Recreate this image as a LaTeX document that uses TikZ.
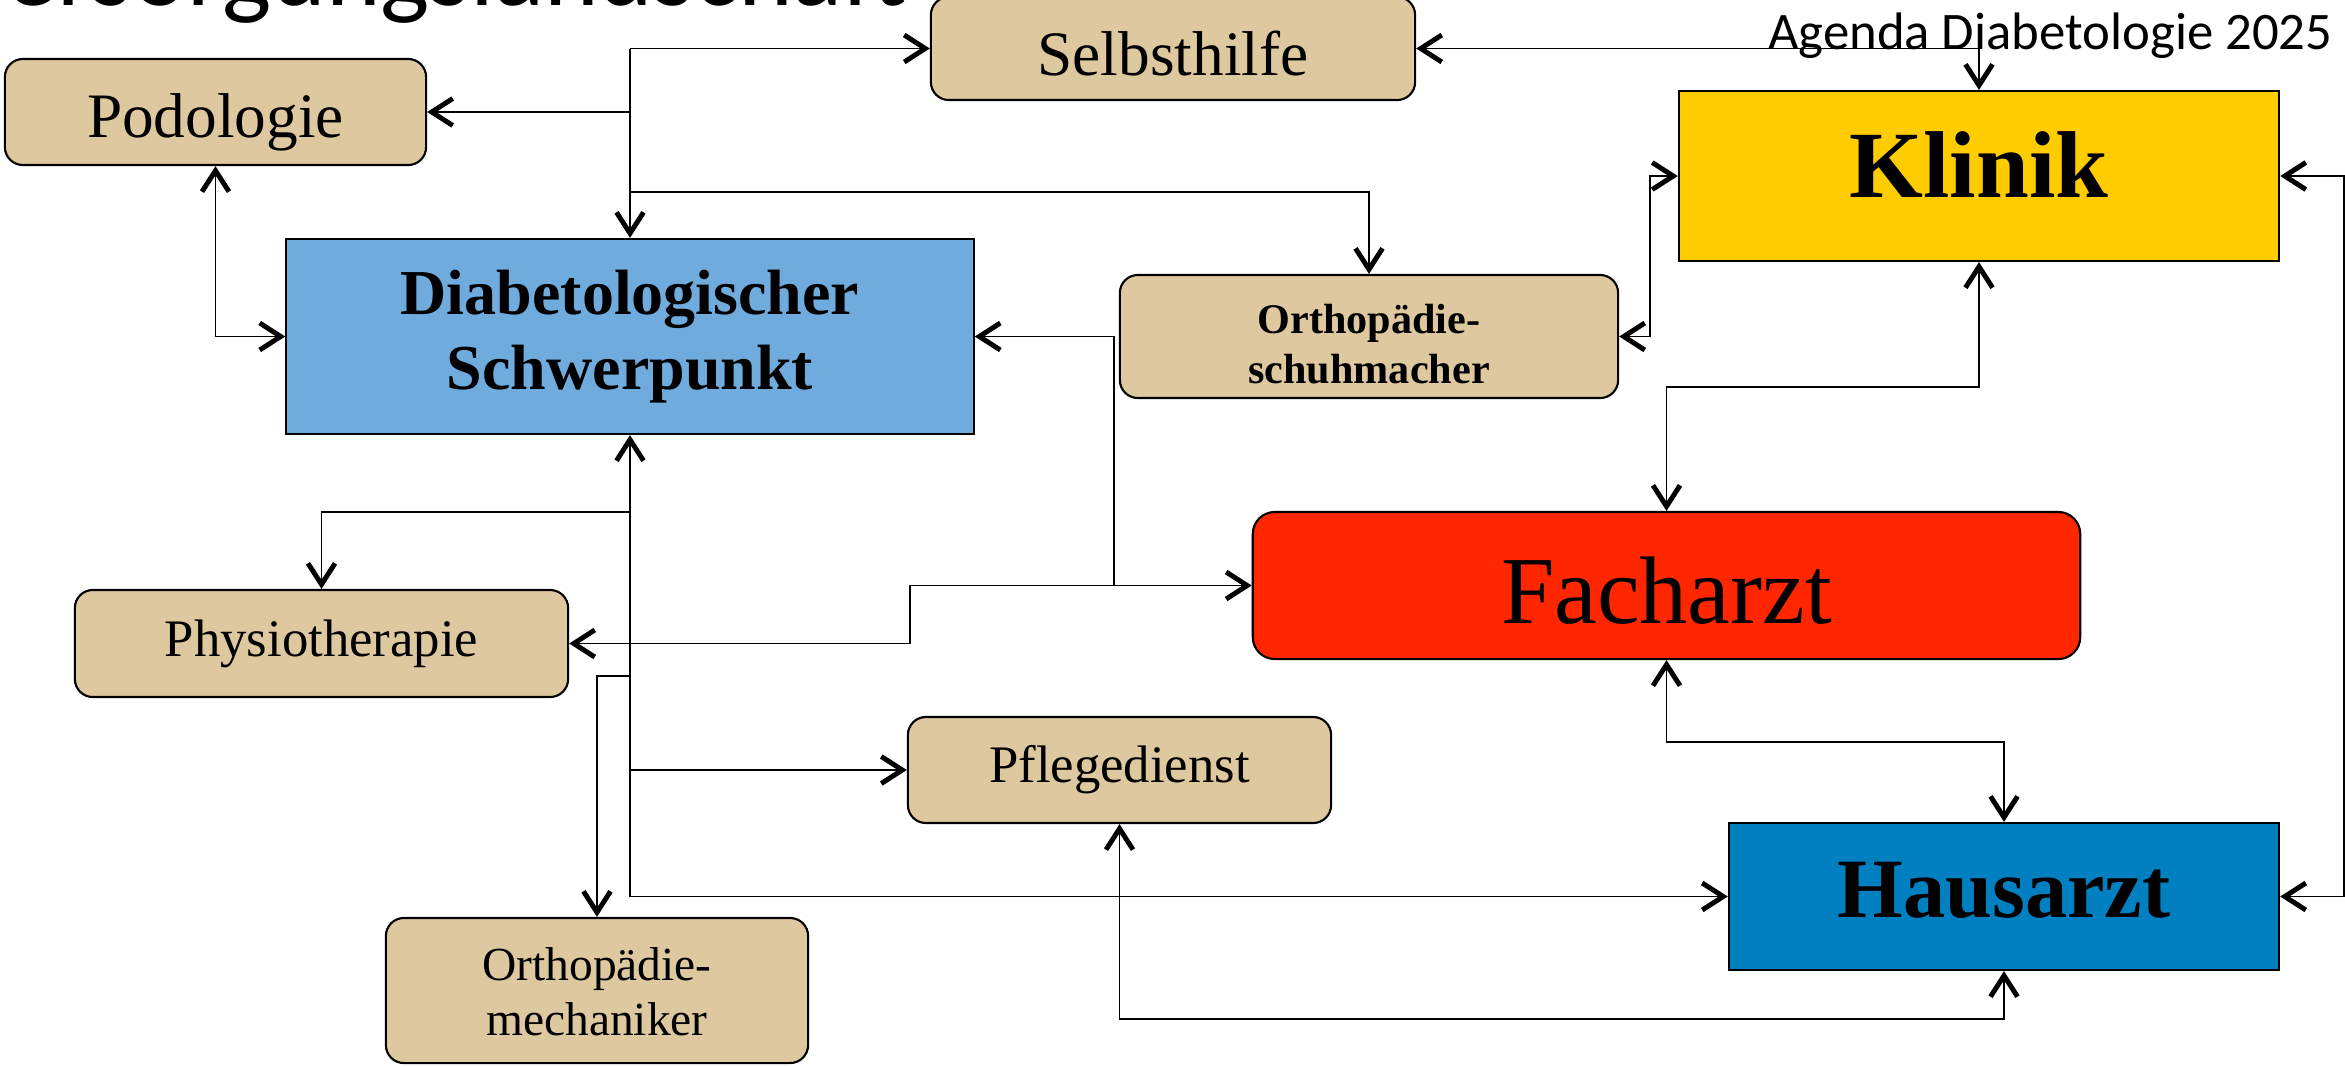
\documentclass[tikz,border=0pt]{standalone}
\usepackage{fontspec}
\setmainfont{Liberation Serif}
\newfontfamily\calibrifont{Carlito}
\usepackage{tikz}
\usetikzlibrary{arrows.meta}
\usepackage{xcolor}

\definecolor{boxtan}{RGB}{222,200,160}
\definecolor{schwerblue}{RGB}{111,172,221}
\definecolor{klinikyellow}{RGB}{255,204,0}
\definecolor{fachred}{RGB}{255,38,0}
\definecolor{hausblue}{RGB}{0,128,192}

\tikzset{
  tanbox/.style={draw, line width=0.6pt, fill=boxtan, rounded corners=0.18cm, inner sep=0pt, align=center},
  plainbox/.style={draw, line width=0.6pt, inner sep=0pt, align=center},
  link/.style={line width=0.55pt, >={Straight Barb[length=0.21cm,width=0.27cm,line width=1.4pt]}},
}

\begin{document}
\begin{tikzpicture}[x=0.01cm, y=-0.01cm]
\useasboundingbox (0,0) rectangle (2345,1066);

% Title (cut at the top edge) and agenda line
\node[anchor=base east, inner sep=0pt, font=\calibrifont\fontsize{29.6}{32}\selectfont] (titel) at (907,5) {Versorgungslandschaft};
\node[anchor=base east, inner sep=0pt, font=\calibrifont\fontsize{15}{18}\selectfont] (agenda) at (2333,49) {Agenda Diabetologie 2025};

% Boxes
\node[tanbox, minimum width=4.21cm, minimum height=1.06cm, text height=0.50cm, text depth=0cm, font=\fontsize{18}{21}\selectfont] (podo) at (215.5,112) {Podologie};
\node[tanbox, minimum width=4.84cm, minimum height=1.03cm, text height=0.53cm, text depth=0cm, font=\fontsize{18}{21}\selectfont] (selbst) at (1173,48.5) {Selbsthilfe};
\node[plainbox, fill=klinikyellow, minimum width=6.00cm, minimum height=1.70cm, text depth=0.22cm, font=\fontsize{27}{32}\selectfont\bfseries] (klinik) at (1979,176) {Klinik};
\node[plainbox, fill=schwerblue, minimum width=6.87cm, minimum height=1.95cm, font=\fontsize{18.2}{21.3}\selectfont\bfseries] (schwer) at (630,336.5) {Diabetologischer\\Schwerpunkt};
\node[tanbox, minimum width=4.98cm, minimum height=1.23cm, text height=0.93cm, text depth=0cm, font=\fontsize{12}{14.2}\selectfont\bfseries] (schuh) at (1369,336.5) {Orthopädie-\\schuhmacher};
\node[tanbox, fill=fachred, rounded corners=0.22cm, minimum width=8.27cm, minimum height=1.47cm, text height=0.75cm, text depth=0cm, font=\fontsize{27.3}{32}\selectfont] (fach) at (1666.5,585.5) {Facharzt};
\node[plainbox, fill=hausblue, minimum width=5.50cm, minimum height=1.47cm, text depth=0.14cm, font=\fontsize{24}{28}\selectfont\bfseries] (haus) at (2004,896.5) {Hausarzt};
\node[tanbox, minimum width=4.93cm, minimum height=1.07cm, font=\fontsize{15}{18}\selectfont] (physio) at (321.5,643.5) {Physiotherapie};
\node[tanbox, minimum width=4.22cm, minimum height=1.45cm, text height=0.89cm, text depth=0cm, font=\fontsize{13.5}{15.4}\selectfont] (mech) at (597,990.5) {Orthopädie-\\mechaniker};
\node[tanbox, minimum width=4.23cm, minimum height=1.06cm, font=\fontsize{15}{18}\selectfont] (pflege) at (1119.5,770) {Pflegedienst};

% Upper trunk from the Schwerpunkt
\coordinate (tapselbst) at (schwer.north |- selbst.west);
\coordinate (tapschuh) at (630,192);
\draw[link,->] (tapselbst) -- (selbst.west);
\draw[link,->] (tapselbst) -- (schwer.north);
\draw[link,->] (tapselbst |- podo.east) -- (podo.east);
\draw[link,->] (tapschuh) -| (schuh.north);
\draw[link,<->] (podo.south) |- (schwer.west);

% Lower trunk from the Schwerpunkt
\coordinate (tapphysio) at (630,512);
\coordinate (tapmech) at (630,676);
\draw[link,<->] (schwer.south) |- (haus.west);
\draw[link,->] (tapphysio) -| (physio.north);
\draw[link,->] (tapmech) -| (mech.north);
\draw[link,->] (tapphysio |- pflege.west) -- (pflege.west);

% Facharzt to Physiotherapie and Schwerpunkt
\coordinate (bendfach) at (910,585.5);
\coordinate (tapfach) at (1114,585.5);
\draw[link,<->] (physio.east) -| (bendfach) -- (fach.west);
\draw[link,->] (tapfach) |- (schwer.east);

% Right side: Klinik, Facharzt, Hausarzt
\draw[link,<->] (selbst.east) -| (klinik.north);
\draw[link,<->] (schuh.east) -- ++(31,0) |- (klinik.west);
\draw[link,<->] (klinik.south) -- ++(0,125) -| (fach.north);
\draw[link,<->] (fach.south) -- ++(0,82) -| (haus.north);
\draw[link,<->] (klinik.east) -- ++(64,0) |- (haus.east);
\draw[link,<->] (pflege.south) -- ++(0,195) -| (haus.south);
\end{tikzpicture}
\end{document}
